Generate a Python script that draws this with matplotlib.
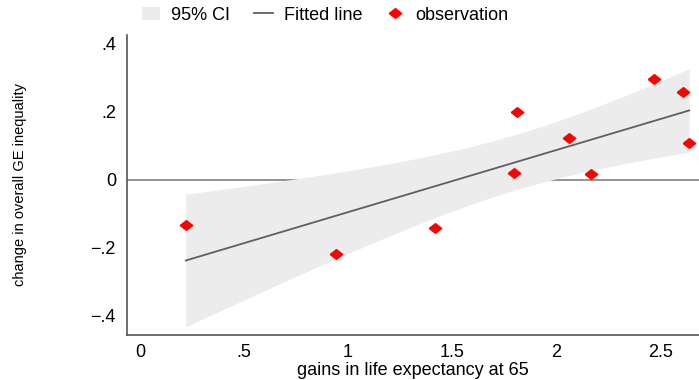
import numpy as np
import matplotlib
matplotlib.use("Agg")
import matplotlib.pyplot as plt

plt.rcParams['font.family'] = ['Liberation Sans', 'DejaVu Sans']

# gains in life expectancy at 65 vs change in overall GE inequality
gains = [0.22, 0.94, 1.42, 1.80, 1.81, 2.06, 2.17, 2.47, 2.61, 2.64]
change = [-0.132, -0.218, -0.141, 0.020, 0.200, 0.124, 0.018, 0.297, 0.259, 0.109]

x_ticks = [0, 0.5, 1, 1.5, 2, 2.5]
x_labels = ["0", ".5", "1", "1.5", "2", "2.5"]
y_ticks = [-0.4, -0.2, 0, 0.2, 0.4]
y_labels = ["\u2212.4", "\u2212.2", "0", ".2", ".4"]

# OLS fit with 95% CI of the mean prediction
x = np.array(gains)
y = np.array(change)
n = len(x)
b, a = np.polyfit(x, y, 1)
resid = y - (a + b * x)
s = np.sqrt(np.sum(resid ** 2) / (n - 2))
sxx = np.sum((x - x.mean()) ** 2)
t_crit = 2.306  # t(0.975, df=8)
grid = np.linspace(x.min(), x.max(), 200)
fit = a + b * grid
half = t_crit * s * np.sqrt(1 / n + (grid - x.mean()) ** 2 / sxx)

fig = plt.figure(figsize=(6.99, 3.8), dpi=100)
ax = fig.add_axes([127 / 699, 1 - 335 / 380, 1 - 127 / 699, (335 - 35) / 380])

ax.axhline(0, color="#808080", lw=1.2, zorder=1)
ci = ax.fill_between(grid, fit - half, fit + half, color="#ececec", lw=0, zorder=2, label="95% CI")
line, = ax.plot(grid, fit, color="#5f5f5f", lw=1.3, zorder=3, label="Fitted line")
diamond = [(-1, 0), (0, 0.78), (1, 0), (0, -0.78), (-1, 0)]
pts, = ax.plot(x, y, ls="none", marker=diamond, ms=9, color="red", mec="red", zorder=4, label="observation")

ax.set_xlim(-0.0625, 2.687)
ax.set_ylim(-0.456, 0.426)
ax.set_xticks(x_ticks, x_labels)
ax.set_yticks(y_ticks, y_labels)
ax.tick_params(length=0, labelsize=13, colors="black")
ax.tick_params(axis="x", pad=6.5)
ax.tick_params(axis="y", pad=8)
ax.spines["top"].set_visible(False)
ax.spines["right"].set_visible(False)
for sp in ("left", "bottom"):
    ax.spines[sp].set_color("#555555")
    ax.spines[sp].set_linewidth(1.2)

ax.set_xlabel("gains in life expectancy at 65", fontsize=13, labelpad=1)
ax.set_ylabel("change in overall GE inequality", fontsize=10.5)
ax.yaxis.set_label_coords(-0.175, 0.5)

fig.legend(handles=[ci, line, pts], loc="center", bbox_to_anchor=(325 / 699, 1 - 15 / 380),
           ncol=3, frameon=False, fontsize=13, handlelength=1.05, handletextpad=0.6,
           columnspacing=1.3)

fig.savefig("out.png", dpi=100)
